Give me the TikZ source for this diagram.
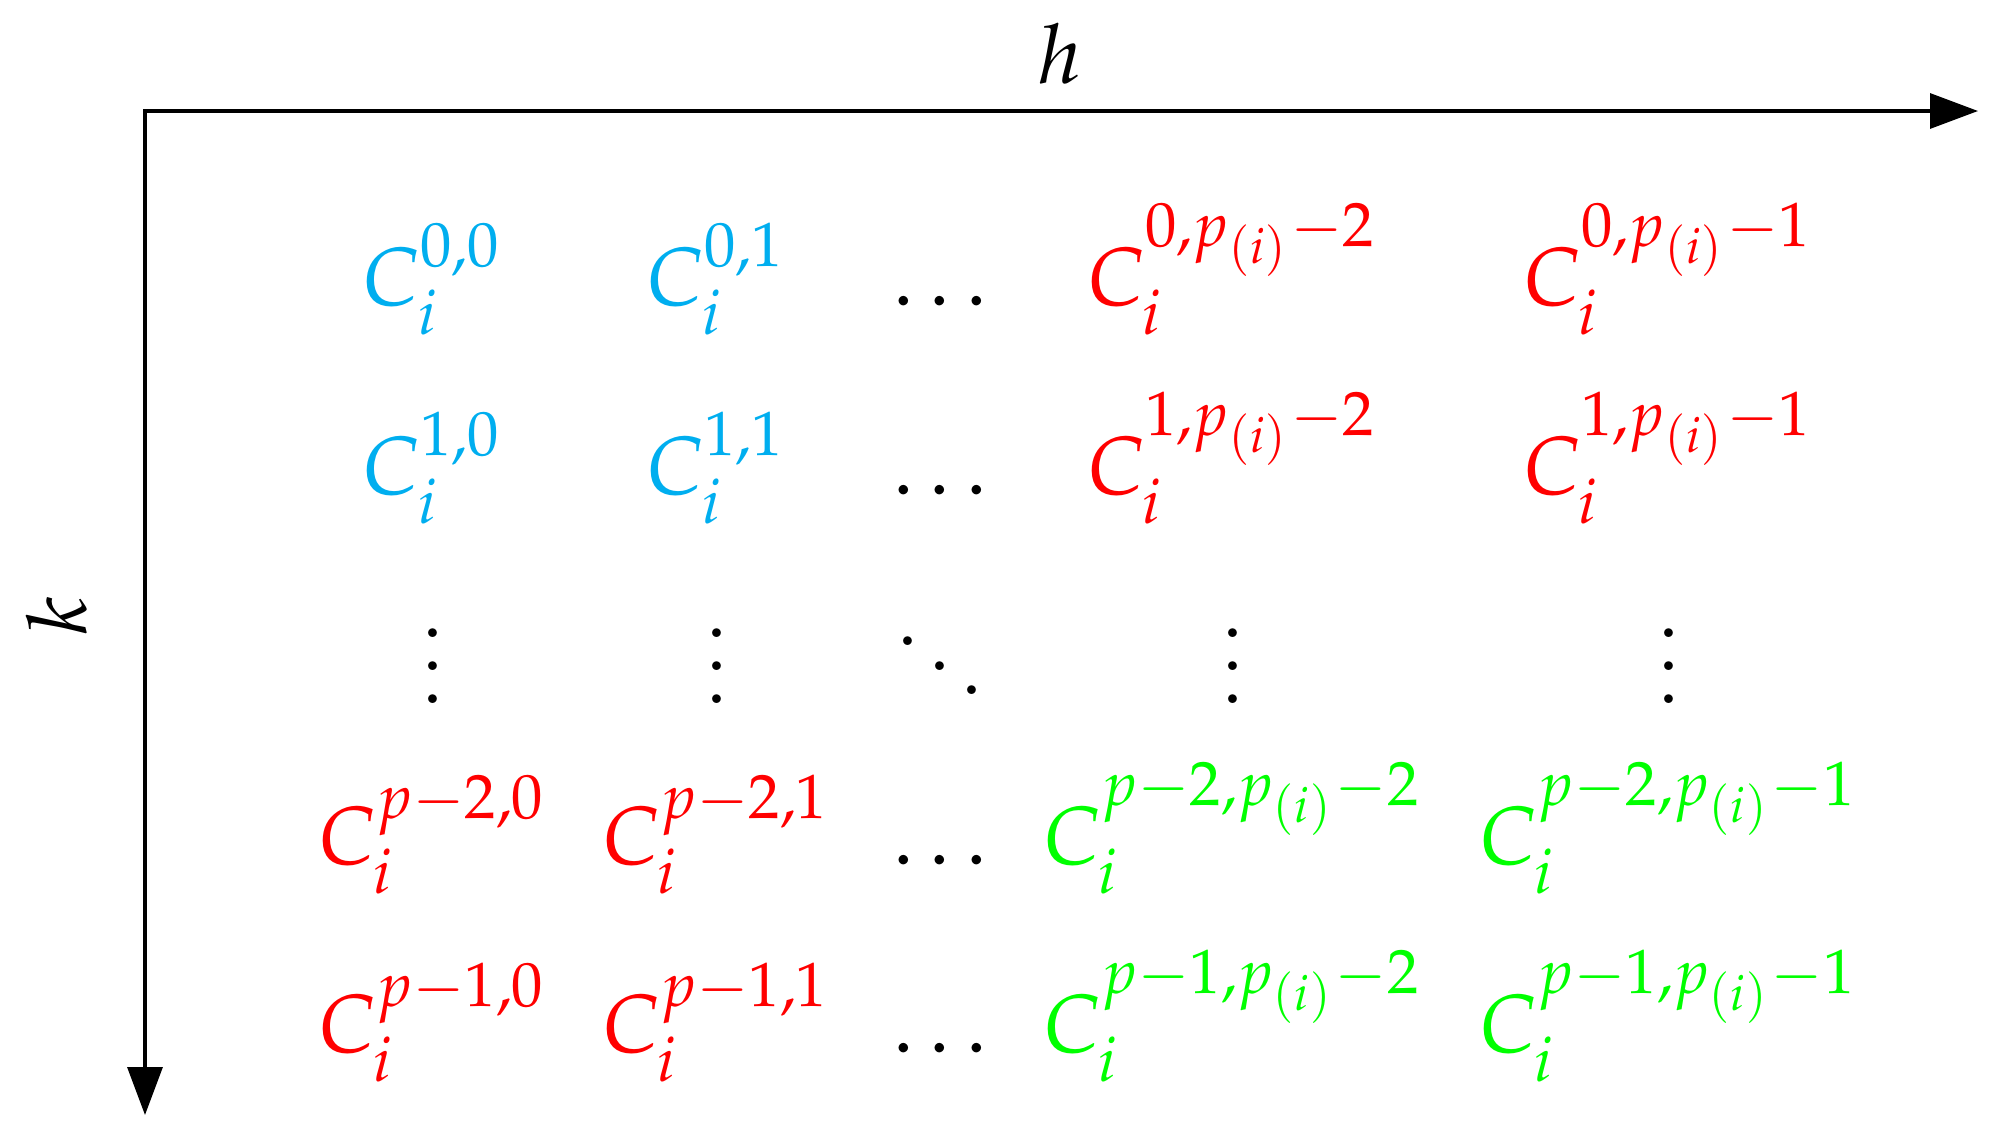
\documentclass[tikz,border=0pt]{standalone}
\usepackage{mathpazo}
\usepackage{graphicx}
\usetikzlibrary{arrows.meta}
\definecolor{cc}{RGB}{0,174,239}
\definecolor{rr}{RGB}{255,0,0}
\definecolor{gg}{RGB}{0,255,0}
\newcommand\mx[1]{\scalebox{8.25}{$#1$}}
\begin{document}
\begin{tikzpicture}[x=1pt,y=-1pt,
  ent/.style={anchor=base,inner sep=0pt,outer sep=0pt},
  axis/.style={line width=3.2pt,line join=miter,{Triangle[length=48pt,width=35pt]}-{Triangle[length=48pt,width=35pt]}}]
\useasboundingbox (0,0) rectangle (1991,1135);
\coordinate (O) at (145,111);
\coordinate (H) at (1978,111);
\coordinate (K) at (145,1115);
\draw[axis] (H) -- (O) -- (K);
\node[ent] (hl) at (1060,83) {\mx{h}};
\node[ent,rotate=90] (kl) at (86,616) {\mx{k}};
% row 1
\node[ent,text=cc] (a11) at (433,305) {\mx{C_i^{0,0}}};
\node[ent,text=cc] (a12) at (717,305) {\mx{C_i^{0,1}}};
\node[ent] (a13) at (940,305) {\mx{\ldots}};
\node[ent,text=rr] (a14) at (1233,305) {\mx{C_i^{0,p_{(i)}-2}}};
\node[ent,text=rr] (a15) at (1669,305) {\mx{C_i^{0,p_{(i)}-1}}};
% row 2
\node[ent,text=cc] (a21) at (433,494) {\mx{C_i^{1,0}}};
\node[ent,text=cc] (a22) at (717,494) {\mx{C_i^{1,1}}};
\node[ent] (a23) at (940,494) {\mx{\ldots}};
\node[ent,text=rr] (a24) at (1233,494) {\mx{C_i^{1,p_{(i)}-2}}};
\node[ent,text=rr] (a25) at (1669,494) {\mx{C_i^{1,p_{(i)}-1}}};
% row 3
\node[ent] (a31) at (433,703) {\mx{\vdots}};
\node[ent] (a32) at (717,703) {\mx{\vdots}};
\node[ent] (a33) at (940,703) {\mx{\ddots}};
\node[ent] (a34) at (1233,703) {\mx{\vdots}};
\node[ent] (a35) at (1669,703) {\mx{\vdots}};
% row 4
\node[ent,text=rr] (a41) at (433,864) {\mx{C_i^{p-2,0}}};
\node[ent,text=rr] (a42) at (717,864) {\mx{C_i^{p-2,1}}};
\node[ent] (a43) at (940,864) {\mx{\ldots}};
\node[ent,text=gg] (a44) at (1233,864) {\mx{C_i^{p-2,p_{(i)}-2}}};
\node[ent,text=gg] (a45) at (1669,864) {\mx{C_i^{p-2,p_{(i)}-1}}};
% row 5
\node[ent,text=rr] (a51) at (433,1052) {\mx{C_i^{p-1,0}}};
\node[ent,text=rr] (a52) at (717,1052) {\mx{C_i^{p-1,1}}};
\node[ent] (a53) at (940,1052) {\mx{\ldots}};
\node[ent,text=gg] (a54) at (1233,1052) {\mx{C_i^{p-1,p_{(i)}-2}}};
\node[ent,text=gg] (a55) at (1669,1052) {\mx{C_i^{p-1,p_{(i)}-1}}};
\end{tikzpicture}
\end{document}
